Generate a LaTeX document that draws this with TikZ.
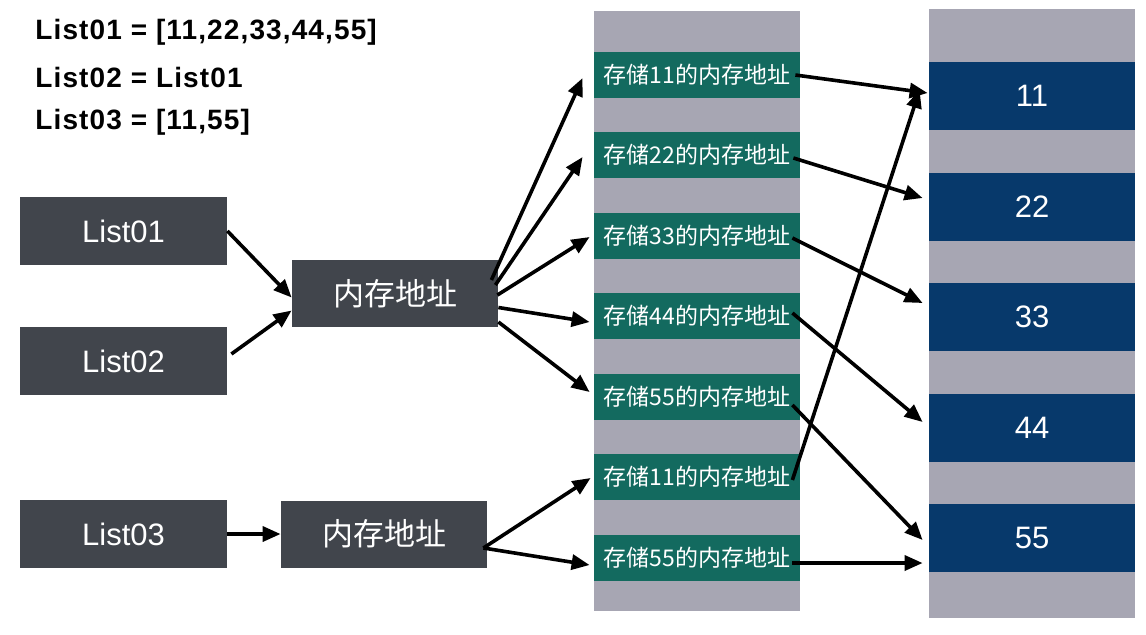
\documentclass[tikz,border=0pt]{standalone}
\usepackage{fontspec}
\setmainfont{Liberation Sans}
\newfontfamily\cjk{Noto Sans CJK SC}
\usetikzlibrary{arrows.meta,calc}

\definecolor{boxgray}{HTML}{41454C}
\definecolor{colgray}{HTML}{A7A6B3}
\definecolor{addrgreen}{HTML}{136A5F}
\definecolor{valblue}{HTML}{07396B}

\begin{document}
\begin{tikzpicture}[x=0.5pt, y=-0.5pt,
		every node/.style={inner sep=0pt, text=white},
		codeline/.style={anchor=west, text=black, font=\bfseries\fontsize{14}{16}\selectfont\addfontfeature{LetterSpace=4}},
		varbox/.style={fill=boxgray, minimum width=103.5pt, minimum height=34pt, font=\fontsize{15.5}{18}\selectfont},
		membox/.style={fill=boxgray, minimum width=103pt, minimum height=33.5pt, font=\cjk\fontsize{15.5}{18}\selectfont},
		addrbox/.style={fill=addrgreen, minimum width=103pt, minimum height=23pt, font=\cjk\fontsize{11.5}{14}\selectfont},
		valbox/.style={fill=valblue, minimum width=103pt, minimum height=34pt, font=\fontsize{15.5}{18}\selectfont},
		ptr/.style={line width=1.8pt, -{Triangle[length=9pt, width=7.5pt]}}]
		
		\useasboundingbox (0,0) rectangle (1146,634);
		
		% Code lines
		\node[codeline] (def1) at (35,32) {List01 = [11,22,33,44,55]};
		\node[codeline] (def2) at (35,77) {List02 = List01};
		\node[codeline] (def3) at (35,122) {List03 = [11,55]};
		
		% Draw the two memory columns
		\fill[colgray] (594,11) rectangle (800,611);
		\fill[colgray] (929,9) rectangle (1135,618);
		
		% Variables and their addresses
		\node[varbox] (list1) at (123.5,231) {List01};
		\node[varbox] (list2) at (123.5,361) {List02};
		\node[varbox] (list3) at (123.5,534) {List03};
		\node[membox] (mem1) at (395,293.5) {内存地址};
		\node[membox] (mem2) at (384,534) {内存地址};
		
		% Address cells
		\foreach \i/\val/\y in {1/11/75, 2/22/155, 3/33/236, 4/44/316, 5/55/397, 6/11/477, 7/55/558} {
				\node[addrbox] (g\i) at (697,\y) {存储\val{}的内存地址};
			}
		
		% Value cells
		\foreach \val/\y in {11/96, 22/206.5, 33/317, 44/427.5, 55/537.5} {
				\node[valbox] (n\val) at (1032,\y) {\val};
			}
		
		% Variables point to the address
		\draw[ptr] (list1.east) -- ($(mem1.west)+(0,4)$);
		\draw[ptr] ($(list2.east)+(4,-7)$) -- ($(mem1.west)+(0,17)$);
		\draw[ptr] (list3) -- (mem2);
		
		% Address points to the cells
		\draw[ptr] ($(mem1.east)+(-7,-13.5)$) -- ($(g1.west)+(-11,3)$);
		\draw[ptr] ($(mem1.east)+(-3,-8.5)$) -- ($(g2.west)+(-11,2)$);
		\draw[ptr] ($(mem1.east)+(-1,1.5)$) -- ($(g3.west)+(-4,1)$);
		\draw[ptr] ($(mem1.east)+(0,14)$) -- ($(g4.west)+(-4,6)$);
		\draw[ptr] ($(mem1.east)+(0,28.5)$) -- ($(g5.west)+(-4,-5)$);
		\draw[ptr] ($(mem2.east)+(-4,14)$) -- ($(g6.west)+(-3,1)$);
		\draw[ptr] ($(mem2.east)+(-4,14)$) -- ($(g7.west)+(-4,7)$);
		
		% Cells point to the values
		\draw[ptr] ($(g1.east)+(-5,0)$) -- ($(n11.west)+(-1,-3)$);
		\draw[ptr] ($(g2.east)+(-7,3)$) -- ($(n22.west)+(-6,-8.5)$);
		\draw[ptr] ($(g3.east)+(-8,2)$) -- ($(n33.west)+(-6,-14)$);
		\draw[ptr] ($(g4.east)+(-8,-3)$) -- ($(n44.west)+(-6,-5.5)$);
		\draw[ptr] ($(g5.east)+(-8,8)$) -- ($(n55.west)+(-6,2.5)$);
		\draw[ptr] ($(g6.east)+(-8,3)$) -- ($(n11.west)+(-9,-6)$);
		\draw[ptr] ($(g7.east)+(-8,5)$) -- ($(n55.west)+(-6,25.5)$);
		
	\end{tikzpicture}
\end{document}
